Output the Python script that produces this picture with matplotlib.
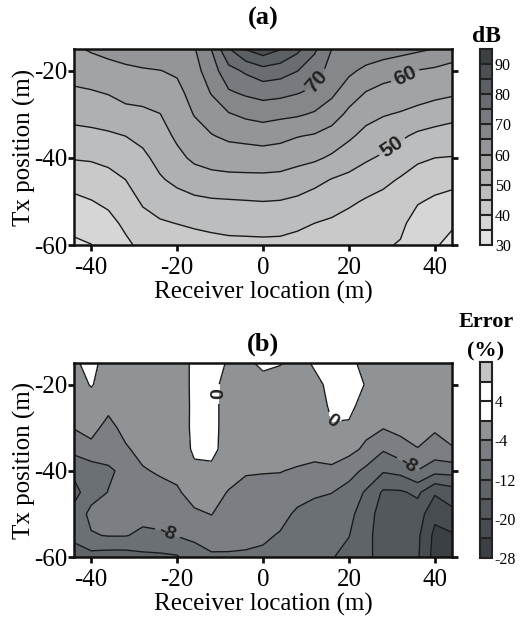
import numpy as np
import matplotlib
matplotlib.use("Agg")
import matplotlib.pyplot as plt

plt.rcParams['font.family'] = ['Liberation Serif', 'DejaVu Serif']
plt.rcParams['axes.unicode_minus'] = False

# grid nodes: receiver location (m) across, Tx position (m) down (top row = -15 m)
rx = [-44, -40, -36, -32, -28, -24, -20, -16, -12, -8, -4, 0,
      4, 8, 12, 16, 20, 24, 28, 32, 36, 40, 44]
tx = [-15, -20, -25, -30, -35, -40, -45, -50, -55, -60]

# (a) received level, dB
db_a = [
    [59.3, 60.5, 61.3, 61.9, 62.6, 63.4, 64.1, 64.6, 70.1, 79.6, 85.3, 88.0,
     85.3, 81.3, 75.8, 70.0, 69.2, 68.4, 67.5, 66.7, 65.9, 64.9, 62.5],
    [56.9, 57.6, 58.5, 59.2, 59.6, 59.9, 60.6, 63.2, 67.7, 73.3, 75.8, 78.1,
     77.2, 75.1, 72.4, 68.0, 66.0, 63.8, 62.4, 61.4, 59.8, 59.1, 58.5],
    [54.2, 54.6, 55.3, 56.6, 56.8, 57.3, 58.8, 61.7, 65.3, 69.4, 70.8, 71.8,
     71.4, 70.3, 68.9, 66.0, 62.4, 59.8, 58.3, 57.7, 57.0, 56.4, 55.8],
    [51.4, 51.8, 52.3, 53.5, 54.0, 54.9, 57.3, 60.2, 62.5, 64.6, 66.0, 66.8,
     66.1, 65.6, 64.4, 62.3, 58.9, 56.6, 55.3, 54.6, 53.6, 52.4, 51.4],
    [48.5, 48.8, 49.3, 50.0, 51.2, 53.1, 55.8, 58.0, 59.7, 60.9, 61.4, 61.9,
     61.3, 60.2, 59.5, 57.9, 55.8, 53.5, 52.4, 50.8, 49.0, 48.2, 47.8],
    [45.3, 45.5, 46.2, 47.5, 49.0, 51.4, 53.8, 55.9, 56.8, 57.4, 57.5, 57.7,
     57.4, 56.5, 55.8, 54.3, 52.3, 50.6, 49.3, 47.5, 45.8, 45.0, 44.8],
    [41.9, 42.6, 43.5, 45.0, 47.2, 49.5, 51.1, 52.7, 53.5, 53.7, 53.8, 53.8,
     53.6, 52.7, 51.4, 49.8, 48.8, 47.5, 46.1, 44.6, 43.0, 42.0, 41.4],
    [38.9, 39.8, 41.0, 43.0, 45.5, 47.0, 48.2, 48.9, 49.4, 49.6, 49.8, 50.0,
     49.8, 49.1, 47.9, 47.0, 45.8, 44.5, 43.6, 42.9, 40.4, 39.2, 38.4],
    [36.5, 37.3, 38.5, 41.0, 43.5, 44.5, 45.1, 45.8, 46.3, 46.7, 46.8, 46.9,
     46.8, 46.1, 45.0, 44.3, 43.2, 42.8, 42.0, 41.1, 37.9, 37.5, 35.8],
    [34.1, 34.9, 37.0, 39.0, 41.3, 41.8, 42.3, 42.7, 43.3, 43.7, 43.8, 43.9,
     43.8, 43.1, 42.5, 42.0, 41.0, 40.8, 40.6, 39.6, 37.0, 35.6, 33.3],
]

# (b) error, %
err_b = [
    [-1.0, 2.0, -2.8, -1.8, -1.8, -1.8, -1.2, 0.5, 1.2, -0.3, -0.8, 0.8,
     0.2, -1.2, 0.4, 1.0, 1.5, -1.8, -2.0, -2.0, -2.0, -2.0, -2.2],
    [-2.0, 0.3, -2.0, -1.9, -1.8, -1.8, -1.2, 0.5, 1.2, -1.5, -1.5, -1.3,
     -1.5, -1.4, -0.8, 0.8, 1.5, -0.2, -2.0, -2.0, -2.0, -2.0, -2.2],
    [-2.5, -2.0, -3.2, -2.2, -2.0, -1.9, -1.3, 0.5, 1.2, -1.6, -1.4, -1.8,
     -1.8, -1.6, -1.5, 0.5, 1.2, -2.0, -2.5, -2.2, -2.2, -2.3, -2.5],
    [-3.8, -3.0, -5.0, -3.0, -2.4, -2.2, -1.5, 0.6, 1.2, -1.6, -1.8, -2.2,
     -2.2, -2.0, -2.0, -0.2, -0.7, -2.9, -3.8, -3.0, -2.8, -3.6, -3.0],
    [-6.9, -4.9, -6.5, -4.4, -3.0, -2.6, -1.8, 0.5, 1.0, -1.6, -2.4, -2.8,
     -2.8, -2.8, -3.0, -2.5, -2.8, -4.8, -7.6, -5.5, -4.1, -5.3, -4.2],
    [-11.0, -10.4, -8.5, -7.2, -4.3, -3.6, -3.0, -0.6, -0.8, -2.2, -3.7, -3.8,
     -3.9, -4.3, -4.7, -4.6, -6.5, -8.9, -11.6, -10.8, -8.1, -10.7, -10.5],
    [-13.5, -9.5, -7.9, -6.8, -5.8, -5.1, -4.5, -2.5, -2.3, -4.25, -5.0, -5.2,
     -5.0, -6.2, -7.5, -7.9, -9.5, -12.5, -16.6, -16.5, -15.2, -19.5, -18.0],
    [-10.5, -7.0, -6.5, -6.5, -6.8, -6.6, -6.0, -4.6, -3.9, -5.5, -6.0, -6.3,
     -6.5, -8.8, -9.3, -10.0, -11.0, -14.0, -18.0, -18.0, -18.0, -23.0, -21.0],
    [-11.5, -8.3, -7.8, -7.8, -8.8, -8.5, -7.8, -7.3, -5.8, -6.8, -7.0, -7.2,
     -8.4, -9.5, -10.0, -11.0, -11.9, -14.5, -18.5, -19.0, -19.2, -25.0, -24.5],
    [-13.0, -13.5, -14.0, -14.0, -13.0, -12.8, -12.4, -9.5, -8.7, -8.4, -8.5, -9.0,
     -9.5, -10.0, -11.0, -11.8, -13.0, -14.5, -18.5, -19.0, -19.5, -25.5, -25.0],
]

levels_a = [30, 35, 40, 45, 50, 55, 60, 65, 70, 75, 80, 85, 90, 95]
colors_a = ['#e3e3e3', '#d6d6d6', '#c9c9ca', '#bcbdbe', '#afb0b2', '#a1a3a5',
            '#939598', '#85888b', '#777a7e', '#696d71', '#5b6064', '#4b5054',
            '#3b4044']
label_lev_a = [50, 60, 70]
levels_b = [-28, -24, -20, -16, -12, -8, -4, 0, 4, 8, 12]
colors_b = ['#3b4044', '#474c50', '#53585c', '#5f6468', '#6b7074', '#7b7f83',
            '#909396', '#ffffff', '#ffffff', '#c3c4c6']
label_lev_b = [-8, 0]

W, H = 528, 628
fig = plt.figure(figsize=(W / 100, H / 100), dpi=100)


def box(l, t, r, b):
    return [l / W, 1 - b / H, (r - l) / W, (b - t) / H]


def setup(ax):
    ax.set_xlim(-44, 44)
    ax.set_ylim(-60, -15)
    ax.set_xticks([-40, -20, 0, 20, 40])
    ax.set_yticks([-60, -40, -20])
    ax.tick_params(direction='out', length=4, width=2, labelsize=18, pad=1,
                   color='#111111')
    ax.tick_params(axis='x', pad=5)
    ax.tick_params(axis='y', right=True)
    for s in ax.spines.values():
        s.set_linewidth(1.8)
        s.set_color('#111111')
    ax.set_xlabel('Receiver location (m)', fontsize=18)
    ax.set_ylabel('Tx position (m)', fontsize=18)
    ax.xaxis.set_label_coords(0.5, -0.185)
    ax.yaxis.set_label_coords(-0.1, 0.5)


def draw(ax, z, levels, colors, lab_levels, lab_pos, fs):
    cs = ax.contourf(rx, tx, z, levels=levels, colors=colors)
    plain = [v for v in levels[1:-1] if v not in lab_levels]
    ax.contour(rx, tx, z, levels=plain, colors='#1a1a1a', linewidths=1.0,
               linestyles='solid')
    cl = ax.contour(rx, tx, z, levels=lab_levels, colors='#1a1a1a',
                    linewidths=1.0, linestyles='solid')
    txts = ax.clabel(cl, fmt='%d', fontsize=fs, inline=True, manual=lab_pos)
    for t in txts:
        t.set_family(['Liberation Sans', 'DejaVu Sans'])
        t.set_fontweight('bold')
        t.set_color('#222222')
    return cs


def cbar(cs, cax, ticks):
    cb = fig.colorbar(cs, cax=cax, ticks=ticks, drawedges=True)
    cb.outline.set_linewidth(1.5)
    cb.outline.set_edgecolor('#222222')
    cb.dividers.set_linewidth(1.5)
    cb.dividers.set_color('#222222')
    cb.ax.tick_params(length=0, labelsize=11.5, pad=2)
    return cb


# ---- (a)
ax = fig.add_axes(box(74, 49, 452, 245))
cs = draw(ax, db_a, levels_a, colors_a, label_lev_a,
          [(30.3, -37.8), (33.0, -21.0), (13.7, -23.3)], 15)
setup(ax)
cax = fig.add_axes(box(480, 49, 492, 245))
cbar(cs, cax, [30, 40, 50, 60, 70, 80, 90])
fig.text(263 / W, 1 - 18 / H, '(a)', ha='center', va='center', fontsize=19,
         fontweight='bold')
fig.text(486 / W, 1 - 37 / H, 'dB', ha='center', va='center', fontsize=17,
         fontweight='bold')

# ---- (b)
ax = fig.add_axes(box(74, 363, 452, 557))
cs = draw(ax, err_b, levels_b, colors_b, label_lev_b,
          [(-22.4, -54.8), (33.8, -38.6), (-10.2, -22.2), (16.0, -29.0)], 14)
setup(ax)
cax = fig.add_axes(box(480, 362, 492, 558))
cbar(cs, cax, [-28, -20, -12, -4, 4])
fig.text(263 / W, 1 - 344 / H, '(b)', ha='center', va='center', fontsize=19,
         fontweight='bold')
fig.text(486 / W, 1 - 322 / H, 'Error', ha='center', va='center', fontsize=16,
         fontweight='bold')
fig.text(486 / W, 1 - 351 / H, '(%)', ha='center', va='center', fontsize=16,
         fontweight='bold')

fig.savefig('out.png', dpi=100)
